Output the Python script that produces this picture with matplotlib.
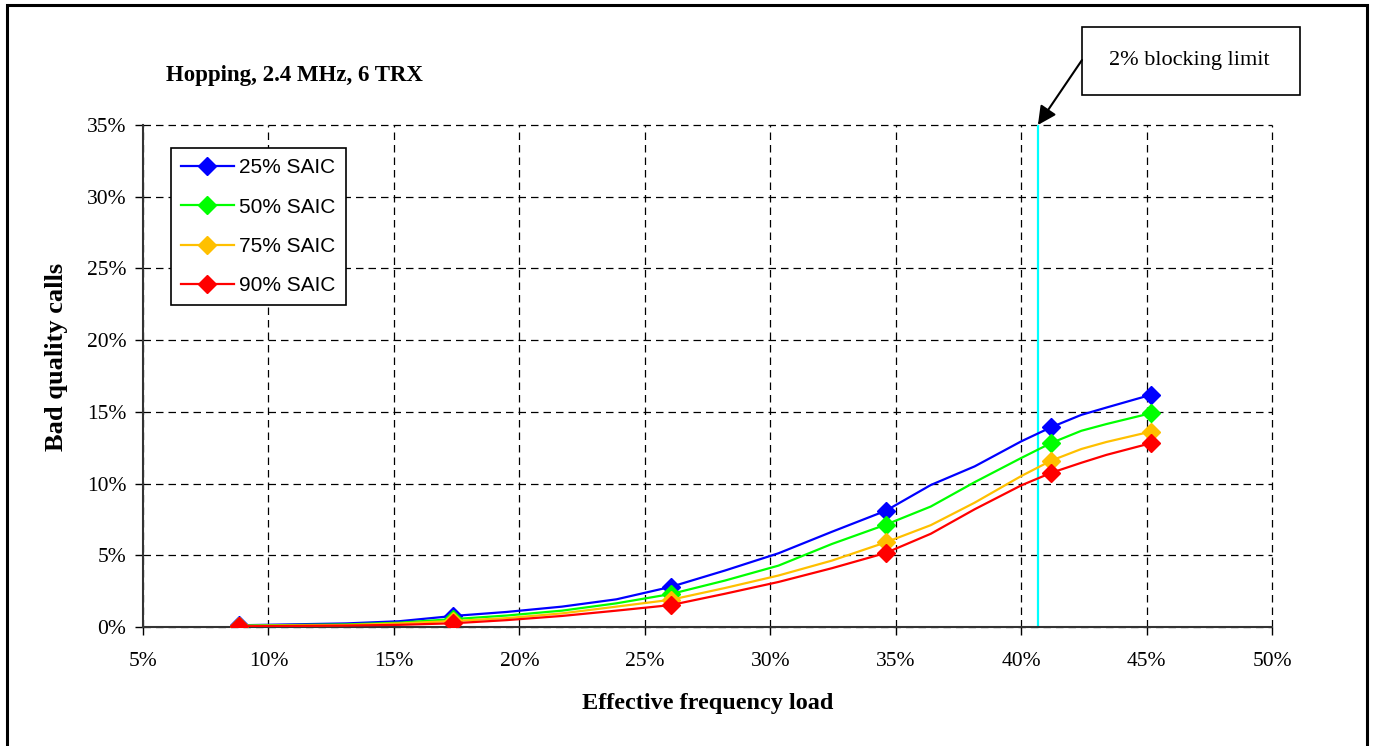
import matplotlib
matplotlib.use("Agg")
import matplotlib.pyplot as plt
from matplotlib.patches import Rectangle
from matplotlib.ticker import FuncFormatter, MultipleLocator

# ---- data (percent) ----
load = [8.84, 13.1, 15.2, 17.37, 19.5, 21.7, 23.87, 26.04, 28.2, 30.33, 32.46,
        34.6, 36.4, 38.15, 40.0, 41.2, 42.4, 43.4, 45.16]
marker_idx = [0, 3, 7, 11, 15, 18]
saic25 = [0.12, 0.25, 0.4, 0.77, 1.05, 1.42, 1.93, 2.8, 3.94, 5.14, 6.64,
          8.1, 9.9, 11.2, 12.94, 13.93, 14.79, 15.3, 16.18]
saic50 = [0.1, 0.18, 0.3, 0.55, 0.8, 1.14, 1.65, 2.3, 3.24, 4.28, 5.79,
          7.13, 8.4, 10.1, 11.78, 12.83, 13.68, 14.15, 14.9]
saic75 = [0.08, 0.14, 0.25, 0.42, 0.62, 0.95, 1.42, 1.9, 2.72, 3.59, 4.63,
          5.9, 7.1, 8.67, 10.52, 11.6, 12.41, 12.9, 13.62]
saic90 = [0.05, 0.1, 0.15, 0.26, 0.48, 0.77, 1.14, 1.53, 2.32, 3.14, 4.1,
          5.16, 6.5, 8.21, 9.87, 10.75, 11.45, 12.0, 12.81]
series_names = ["25% SAIC", "50% SAIC", "75% SAIC", "90% SAIC"]
series_values = [saic25, saic50, saic75, saic90]
series_colors = ["#0000FF", "#00FF00", "#FFC000", "#FF0000"]
blocking_limit = 40.67

W, H = 1374, 746
fig = plt.figure(figsize=(W / 100, H / 100), dpi=100)
fig.patch.set_facecolor("white")

L, R, T, B = 143, 1272, 125, 627
ax = fig.add_axes([L / W, 1 - B / H, (R - L) / W, (B - T) / H])

serif = ["Liberation Serif", "DejaVu Serif"]
sans = ["Liberation Sans", "DejaVu Sans"]

for name, vals, col in zip(series_names, series_values, series_colors):
    ax.plot(load, vals, color=col, lw=1.6, marker="D", markersize=9,
            markevery=marker_idx, markeredgecolor=col, markerfacecolor=col,
            label=name, zorder=3)

ax.axvline(blocking_limit, color="#00FFFF", lw=1.6, zorder=2)

ax.set_xlim(5, 50)
ax.set_ylim(0, 35)
ax.xaxis.set_major_locator(MultipleLocator(5))
ax.yaxis.set_major_locator(MultipleLocator(5))
fmt = FuncFormatter(lambda v, p: "%d%%" % round(v))
ax.xaxis.set_major_formatter(fmt)
ax.yaxis.set_major_formatter(fmt)
ax.grid(True, color="black", linestyle=(0, (6, 4)), lw=0.9, zorder=1)
ax.set_axisbelow(True)
for gl in ax.get_xgridlines() + ax.get_ygridlines():
    gl.set_clip_on(False)
for s in ["top", "right"]:
    ax.spines[s].set_visible(False)
for s in ["left", "bottom"]:
    ax.spines[s].set_color("#333333")
    ax.spines[s].set_linewidth(1.5)
ax.tick_params(axis="both", direction="out", length=6, width=1, color="black")
ax.tick_params(axis="y", pad=6)
ax.tick_params(axis="x", pad=12)
for lab in ax.get_xticklabels() + ax.get_yticklabels():
    lab.set_fontfamily(serif)
    lab.set_fontsize(15.5)

leg = ax.legend(loc="upper left",
                bbox_to_anchor=((171 - L) / (R - L), (B - 148) / (B - T)),
                borderaxespad=0, frameon=True, fancybox=False, framealpha=1,
                edgecolor="black", prop={"family": sans, "size": 15},
                handlelength=2.5, labelspacing=0.97, handletextpad=0.25,
                borderpad=0.5)
leg.get_frame().set_linewidth(1.2)
leg.set_zorder(5)

# Texts
fig.text(166 / W, 1 - 75 / H, "Hopping, 2.4 MHz, 6 TRX", family=serif,
         weight="bold", fontsize=16.5, ha="left", va="center")
fig.text(57 / W, 1 - 357 / H, "Bad quality calls", family=serif,
         weight="bold", fontsize=19, rotation=90, ha="center", va="center")
fig.text(708 / W, 1 - 703 / H, "Effective frequency load", family=serif,
         weight="bold", fontsize=17.5, ha="center", va="center")

# Blocking limit box and arrow
fig.patches.append(Rectangle((1082 / W, 1 - 95 / H), (1300 - 1082) / W, (95 - 27) / H,
                             transform=fig.transFigure, fill=False, ec="black", lw=1.2))
fig.text(1189 / W, 1 - 60 / H, "2% blocking limit", family=serif, fontsize=16,
         ha="center", va="center")
ax.annotate("", xy=(blocking_limit, 35), xycoords="data",
            xytext=(1082, H - 60), textcoords="figure pixels",
            arrowprops=dict(arrowstyle="-|>", color="black", lw=1.5,
                            mutation_scale=28, shrinkA=0, shrinkB=0),
            annotation_clip=False)

# Outer frame
fig.patches.append(Rectangle((7 / W, -0.02), (1367 - 7) / W, 1 - 5 / H + 0.02,
                             transform=fig.transFigure, fill=False, ec="black", lw=2.2))

fig.savefig("out.png", dpi=100)
